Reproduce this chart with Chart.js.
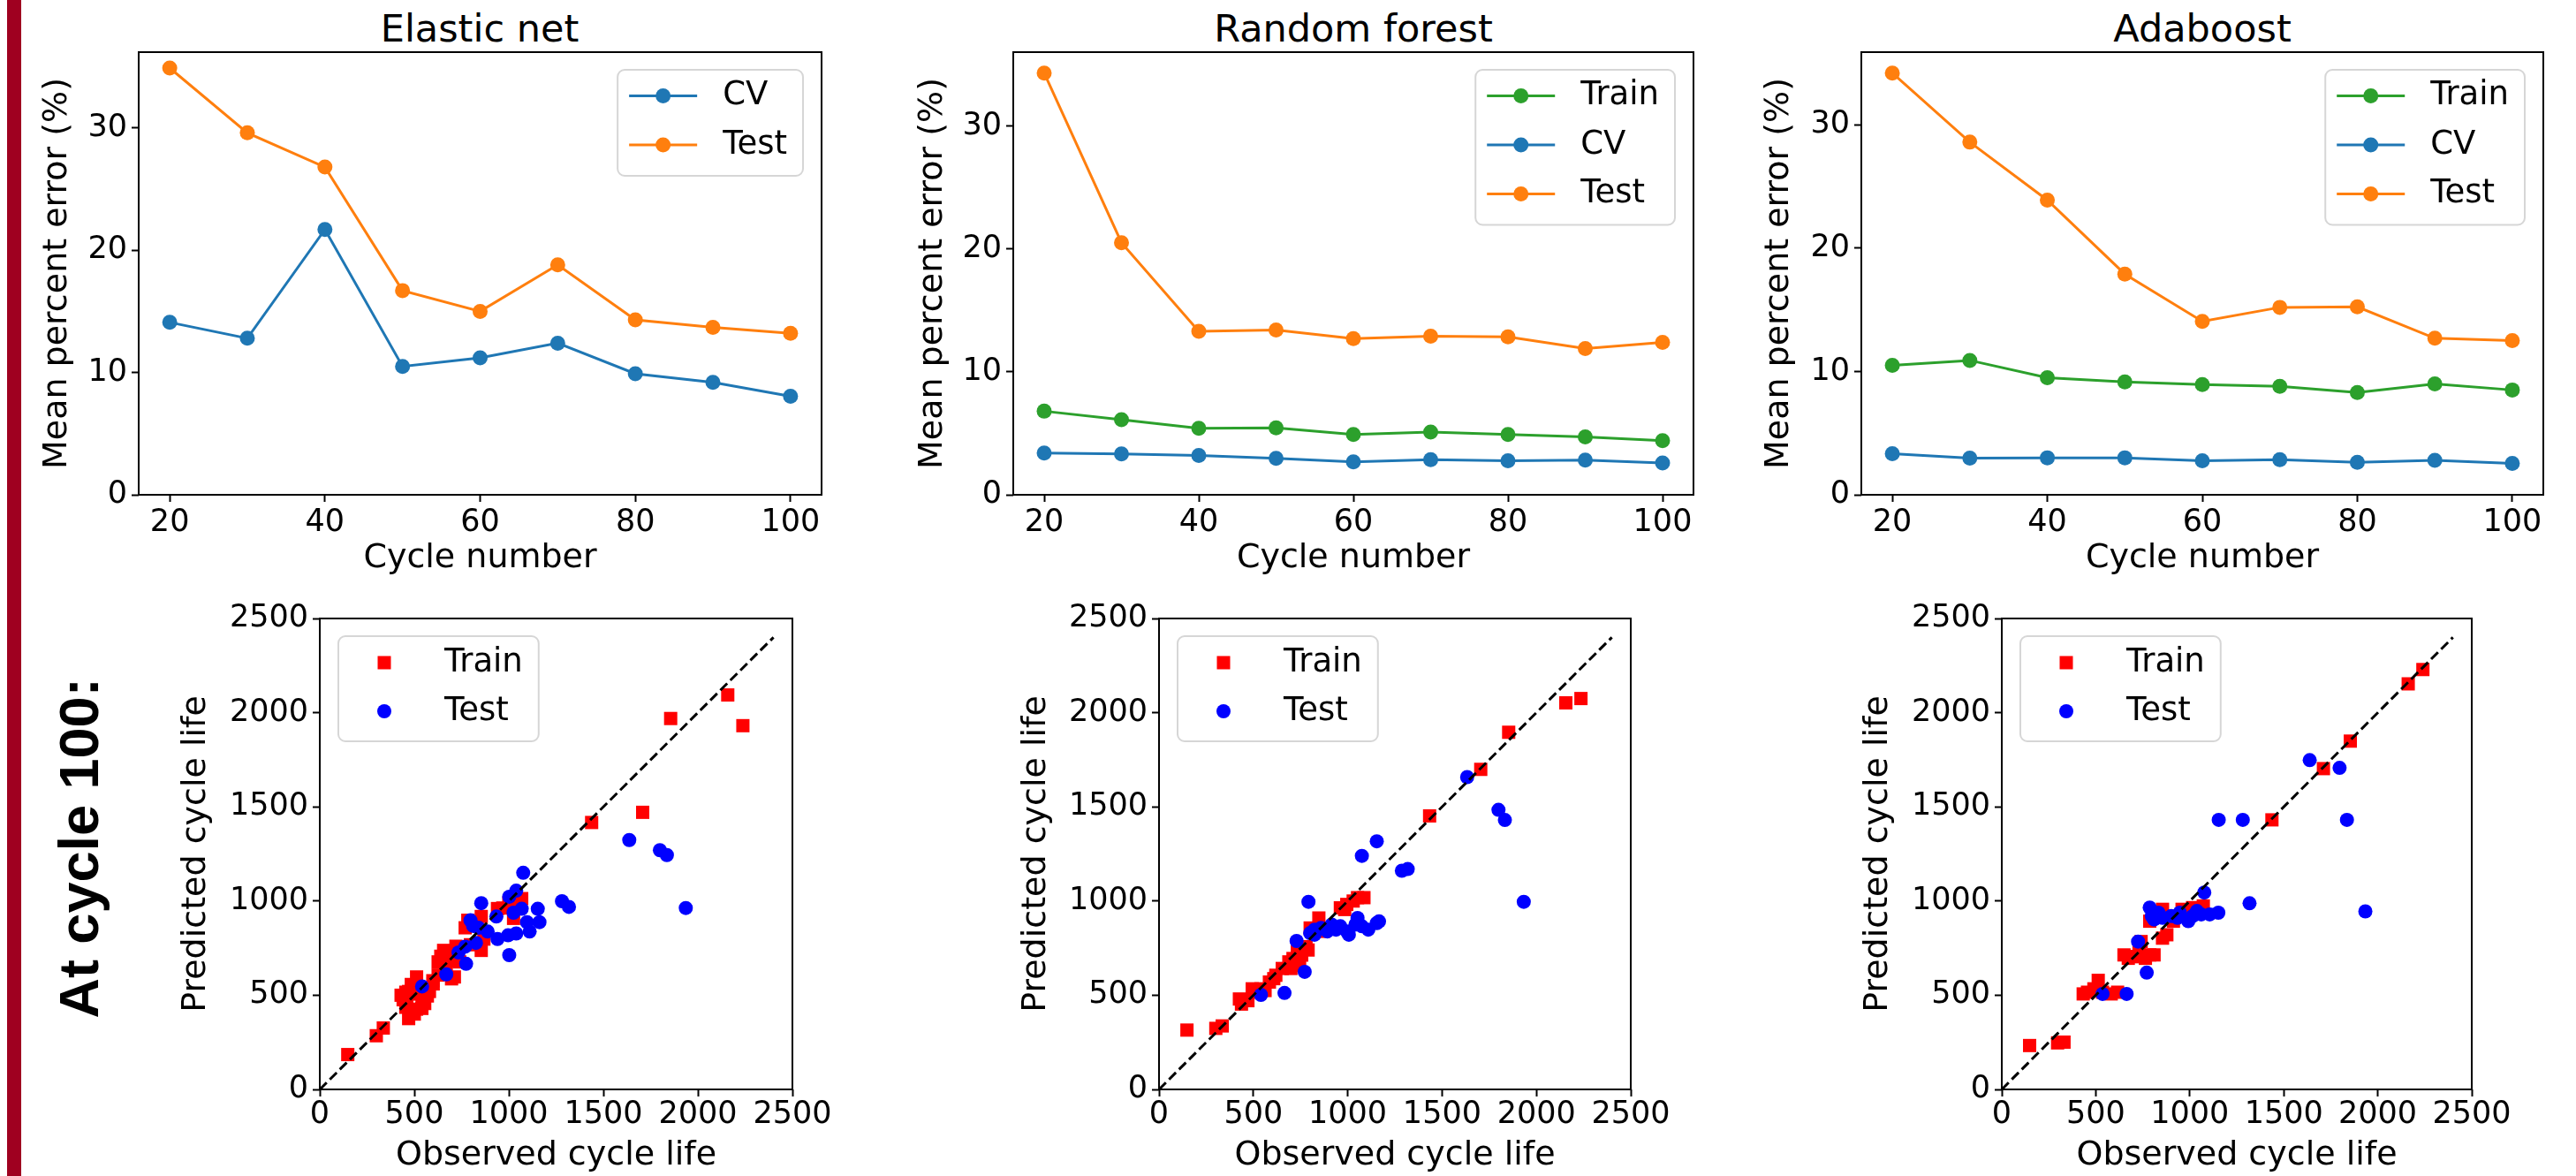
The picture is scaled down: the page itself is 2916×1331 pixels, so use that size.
<!DOCTYPE html>
<html>
<head>
<meta charset="utf-8">
<script src="https://cdn.jsdelivr.net/npm/chart.js@4.4.1/dist/chart.umd.min.js"></script>
<style>
body { margin: 0; background: #fff; }
#fig { position: relative; width: 2916px; height: 1331px; overflow: hidden; background: #fff; font-family: 'DejaVu Sans', sans-serif; }
#fig canvas { position: absolute; }
.ttl { position: absolute; font-size: 43px; line-height: 1; white-space: nowrap; transform: translateX(-50%); color: #000; }
#side { position: absolute; left: 89px; top: 960px; font: bold 63px 'Liberation Sans', Arial, sans-serif; line-height: 1; white-space: nowrap; transform: translate(-50%, -50%) rotate(-90deg); color: #000; }
#bar { position: absolute; left: 8px; top: 0; width: 16px; height: 1331px; background: #9f0020; }
</style>
</head>
<body>
<div id="fig">
  <div id="bar"></div>
  <div class="ttl" style="left:543px; top:11px;">Elastic net</div>
  <div class="ttl" style="left:1532px; top:11px;">Random forest</div>
  <div class="ttl" style="left:2493px; top:11px;">Adaboost</div>
  <div id="side">At cycle 100:</div>
</div>
<script>
// top row: mean percent error vs cycle number
const cycles = [20, 30, 40, 50, 60, 70, 80, 90, 100];
const enCV = [14.1, 12.8, 21.7, 10.5, 11.2, 12.4, 9.9, 9.2, 8.05];
const enTest = [34.9, 29.6, 26.8, 16.7, 15.0, 18.8, 14.3, 13.7, 13.2];
const rfTrain = [6.8, 6.1, 5.4, 5.45, 4.9, 5.1, 4.9, 4.7, 4.4];
const rfCV = [3.4, 3.33, 3.2, 2.97, 2.67, 2.85, 2.76, 2.82, 2.58];
const rfTest = [34.3, 20.5, 13.3, 13.4, 12.7, 12.9, 12.85, 11.9, 12.4];
const adaTrain = [10.5, 10.9, 9.5, 9.15, 8.94, 8.8, 8.3, 9.0, 8.5];
const adaCV = [3.33, 2.97, 3.0, 3.0, 2.76, 2.85, 2.64, 2.79, 2.55];
const adaTest = [34.2, 28.6, 23.9, 17.9, 14.06, 15.2, 15.24, 12.7, 12.5];
const errTicks = [0, 10, 20, 30];
const cycleTicks = [20, 40, 60, 80, 100];

// bottom row: predicted vs observed cycle life at cycle 100
const lifeTicks = [0, 500, 1000, 1500, 2000, 2500];
const diag = [0, 2400];

const enTrainObs = [148, 299, 336, 1438, 1708, 1856, 2158, 2238, 1068, 968, 1025, 783, 854, 868, 854, 712, 740, 655, 626, 598, 626, 697, 712, 512, 484, 455, 441, 455, 470, 541, 555, 512, 569, 498, 669, 640, 797, 769, 430, 470, 520, 540, 500, 460, 580, 600, 690, 720, 680, 1050, 1000, 940];
const enTrainPred = [185, 285, 326, 1417, 1471, 1969, 2094, 1931, 1013, 963, 908, 898, 918, 798, 738, 707, 677, 738, 677, 577, 607, 587, 597, 597, 557, 516, 476, 436, 376, 476, 456, 426, 496, 506, 657, 707, 768, 858, 500, 520, 540, 430, 400, 460, 520, 560, 720, 760, 680, 960, 990, 960];
const enTestObs = [541, 669, 774, 734, 854, 1002, 1039, 1076, 1281, 1318, 1637, 1799, 1836, 1936, 1153, 1162, 1110, 1096, 1039, 996, 1002, 940, 934, 888, 840, 797, 811, 826, 769, 1068, 1025];
const enTestPred = [547, 611, 667, 727, 989, 1023, 1055, 1150, 999, 969, 1324, 1270, 1244, 963, 959, 888, 838, 888, 828, 818, 713, 798, 918, 838, 858, 898, 868, 778, 758, 959, 938];

const rfTrainObs = [148, 301, 335, 1434, 1705, 1853, 2156, 2236, 437, 471, 494, 528, 562, 608, 619, 653, 688, 710, 733, 756, 790, 779, 745, 699, 801, 847, 870, 961, 995, 1029, 1052, 1086, 984, 585, 540, 426];
const rfTrainPred = [315, 324, 337, 1452, 1699, 1896, 2052, 2075, 453, 471, 534, 516, 525, 588, 606, 642, 677, 695, 731, 713, 740, 758, 659, 642, 857, 910, 839, 964, 982, 1000, 1018, 1018, 955, 570, 534, 480];
const rfTestObs = [540, 665, 772, 729, 792, 1075, 1154, 1287, 1318, 1633, 1799, 1833, 1933, 824, 858, 915, 938, 995, 1052, 1006, 1041, 1075, 1109, 1154, 1166, 824, 801, 961, 892];
const rfTestPred = [502, 512, 624, 788, 996, 1240, 1317, 1161, 1170, 1658, 1484, 1430, 996, 848, 857, 875, 848, 839, 910, 821, 875, 866, 848, 883, 892, 821, 830, 866, 839];

const adaTrainObs = [148, 297, 331, 1437, 1711, 1854, 2162, 2240, 433, 456, 490, 513, 536, 582, 616, 650, 673, 719, 741, 787, 764, 730, 787, 855, 878, 855, 913, 959, 1015, 1072, 810, 707, 810];
const adaTrainPred = [233, 247, 251, 1431, 1703, 1849, 2153, 2229, 507, 516, 534, 579, 516, 507, 516, 714, 696, 705, 785, 714, 696, 750, 893, 803, 821, 956, 893, 956, 965, 974, 938, 705, 714];
const adaTestObs = [536, 664, 771, 725, 1077, 1154, 1282, 1318, 1638, 1797, 1836, 1934, 787, 798, 833, 855, 901, 947, 992, 1015, 1038, 1061, 1106, 1152, 810, 935];
const adaTestPred = [507, 507, 620, 785, 1045, 1431, 1431, 988, 1748, 1707, 1431, 945, 965, 920, 938, 911, 920, 938, 893, 920, 947, 929, 929, 938, 902, 911];

const C_BLUE = '#1f77b4', C_ORANGE = '#ff7f0e', C_GREEN = '#2ca02c';
const FONT = "'DejaVu Sans', sans-serif";
Chart.defaults.font.family = FONT;
Chart.defaults.color = '#000';

function toPts(xs, ys) {
    return xs.map((x, i) => ({ x: x, y: ys[i] }));
}

function lineSet(label, color, ys, order) {
    return {
        label: label, data: toPts(cycles, ys), showLine: true, order: order,
        borderColor: color, backgroundColor: color, borderWidth: 3,
        pointRadius: 8.5, pointBorderWidth: 0, pointBackgroundColor: color, pointBorderColor: color,
    };
}

function dotSet(label, color, style, radius, xs, ys, order) {
    return {
        label: label, data: toPts(xs, ys), order: order, pointStyle: style,
        pointRadius: radius, pointBorderWidth: 0, backgroundColor: color, borderColor: color,
    };
}

// matplotlib-like frame round the plot area
const frame = {
    id: 'frame',
    afterDatasetsDraw(chart) {
        const ctx = chart.ctx, a = chart.chartArea;
        ctx.save();
        ctx.lineWidth = 2;
        ctx.strokeStyle = '#000';
        ctx.strokeRect(a.left, a.top, a.right - a.left, a.bottom - a.top);
        ctx.restore();
    }
};

// legend box drawn inside the plot area, like matplotlib's
const mplLegend = {
    id: 'mplLegend',
    afterDraw(chart, args, o) {
        const ctx = chart.ctx, a = chart.chartArea;
        const items = chart.data.datasets.filter(d => d.label).map(d => ({
            label: d.label, color: d.borderColor,
            kind: d.showLine ? 'line' : d.pointStyle
        }));
        ctx.save();
        ctx.font = "37px " + FONT;
        const tw = Math.max(...items.map(it => ctx.measureText(it.label).width));
        const isLine = o.kind === 'line';
        const textX = isLine ? 119 : 120;
        const w = textX + tw + 18;
        const h = o.first + o.gap * (items.length - 1) + o.last;
        const x = isLine ? a.right - 21 - w : a.left + 21;
        const y = a.top + 20;
        ctx.beginPath();
        ctx.roundRect(x, y, w, h, 8);
        ctx.fillStyle = 'rgba(255,255,255,0.8)';
        ctx.fill();
        ctx.lineWidth = 2;
        ctx.strokeStyle = '#d6d6d6';
        ctx.stroke();
        items.forEach((it, i) => {
            const cy = y + o.first + i * o.gap;
            ctx.fillStyle = it.color;
            ctx.strokeStyle = it.color;
            if (it.kind === 'line') {
                ctx.lineWidth = 3;
                ctx.beginPath(); ctx.moveTo(x + 13, cy); ctx.lineTo(x + 90, cy); ctx.stroke();
                ctx.beginPath(); ctx.arc(x + 51.5, cy, 8.5, 0, 2 * Math.PI); ctx.fill();
            } else if (it.kind === 'rect') {
                ctx.fillRect(x + 52 - 7.5, cy - 7.5, 15, 15);
            } else {
                ctx.beginPath(); ctx.arc(x + 52, cy, 8, 0, 2 * Math.PI); ctx.fill();
            }
            ctx.fillStyle = '#000';
            ctx.textAlign = 'left';
            ctx.textBaseline = 'middle';
            ctx.fillText(it.label, x + textX, cy);
        });
        ctx.restore();
    }
};

function axis(min, max, tickVals, title, fit, titlePad, tickPad) {
    return {
        type: 'linear', min: min, max: max,
        afterBuildTicks: s => { s.ticks = tickVals.map(v => ({ value: v })); },
        afterFit: fit,
        border: { display: false },
        grid: { drawOnChartArea: false, drawTicks: true, tickLength: 8, tickColor: '#000', tickWidth: 2 },
        ticks: {
            color: '#000', font: { family: FONT, size: 35 }, padding: tickPad, maxRotation: 0, autoSkip: false,
            callback: v => String(v)
        },
        title: { display: true, text: title, color: '#000', font: { family: FONT, size: 38, lineHeight: 1 }, padding: titlePad }
    };
}

// box = canvas rectangle, plot = plot-area rectangle (page pixels)
function panel(box, plot, opt) {
    const cv = document.createElement('canvas');
    cv.width = box.r - box.l;
    cv.height = box.b - box.t;
    cv.style.left = box.l + 'px';
    cv.style.top = box.t + 'px';
    cv.style.width = (box.r - box.l) + 'px';
    cv.style.height = (box.b - box.t) + 'px';
    document.getElementById('fig').appendChild(cv);
    const xTitleBottom = box.b - 19 - opt.xLabelY;
    const yTitleTop = opt.yLabelX - box.l - 19;
    return new Chart(cv, {
        type: 'scatter',
        data: { datasets: opt.datasets },
        options: {
            responsive: false,
            animation: false,
            events: [],
            layout: { padding: { top: plot.t - box.t, right: box.r - plot.r, left: 0, bottom: 0 } },
            scales: {
                x: axis(opt.x[0], opt.x[1], opt.xTicks, opt.xTitle, s => { s.height = box.b - plot.b; },
                    { top: 0, bottom: xTitleBottom }, opt.xTickPad),
                y: axis(opt.y[0], opt.y[1], opt.yTicks, opt.yTitle, s => { s.width = plot.l - box.l; },
                    { top: yTitleTop, bottom: 0 }, 5),
            },
            plugins: {
                legend: { display: false },
                tooltip: { enabled: false },
                mplLegend: opt.legend,
            },
        },
        plugins: [frame, mplLegend],
    });
}

const lineLegend = { kind: 'line', first: 29.5, gap: 55.5, last: 35 };
const dotLegend = { kind: 'scatter', first: 30, gap: 55, last: 34 };

function topPanel(l, plotL, plotR, yLabelX, yMax, datasets) {
    panel({ l: l, t: 0, r: plotR + 30, b: 680 }, { l: plotL, t: 59, r: plotR, b: 560 }, {
        datasets: datasets, x: [16, 104], y: [0, yMax], xTicks: cycleTicks, yTicks: errTicks,
        xTitle: 'Cycle number', yTitle: 'Mean percent error (%)',
        xLabelY: 632, yLabelX: yLabelX, xTickPad: 3, legend: lineLegend,
    });
}

function bottomPanel(l, plotL, plotR, yLabelX, datasets) {
    panel({ l: l, t: 650, r: plotR + 60, b: 1331 }, { l: plotL, t: 700, r: plotR, b: 1233 }, {
        datasets: datasets, x: [0, 2500], y: [0, 2500], xTicks: lifeTicks, yTicks: lifeTicks,
        xTitle: 'Observed cycle life', yTitle: 'Predicted cycle life',
        xLabelY: 1308, yLabelX: yLabelX, xTickPad: 0, legend: dotLegend,
    });
}

function diagSet() {
    return {
        data: toPts(diag, diag), showLine: true, order: 0, borderColor: '#000', borderWidth: 3,
        borderDash: [11, 5], pointRadius: 0,
    };
}

topPanel(0, 157, 930, 65, 36.2, [
    lineSet('CV', C_BLUE, enCV, 1),
    lineSet('Test', C_ORANGE, enTest, 0),
]);
topPanel(990, 1147, 1917, 1056, 36.0, [
    lineSet('Train', C_GREEN, rfTrain, 2),
    lineSet('CV', C_BLUE, rfCV, 1),
    lineSet('Test', C_ORANGE, rfTest, 0),
]);
topPanel(1950, 2107, 2879, 2014, 35.9, [
    lineSet('Train', C_GREEN, adaTrain, 2),
    lineSet('CV', C_BLUE, adaCV, 1),
    lineSet('Test', C_ORANGE, adaTest, 0),
]);

bottomPanel(150, 362, 897, 222, [
    dotSet('Train', '#ff0000', 'rect', 10.6, enTrainObs, enTrainPred, 2),
    dotSet('Test', '#0000ff', 'circle', 8, enTestObs, enTestPred, 1),
    diagSet(),
]);
bottomPanel(1100, 1312, 1846, 1173, [
    dotSet('Train', '#ff0000', 'rect', 10.6, rfTrainObs, rfTrainPred, 2),
    dotSet('Test', '#0000ff', 'circle', 8, rfTestObs, rfTestPred, 1),
    diagSet(),
]);
bottomPanel(2054, 2266, 2798, 2126, [
    dotSet('Train', '#ff0000', 'rect', 10.6, adaTrainObs, adaTrainPred, 2),
    dotSet('Test', '#0000ff', 'circle', 8, adaTestObs, adaTestPred, 1),
    diagSet(),
]);
</script>
</body>
</html>
